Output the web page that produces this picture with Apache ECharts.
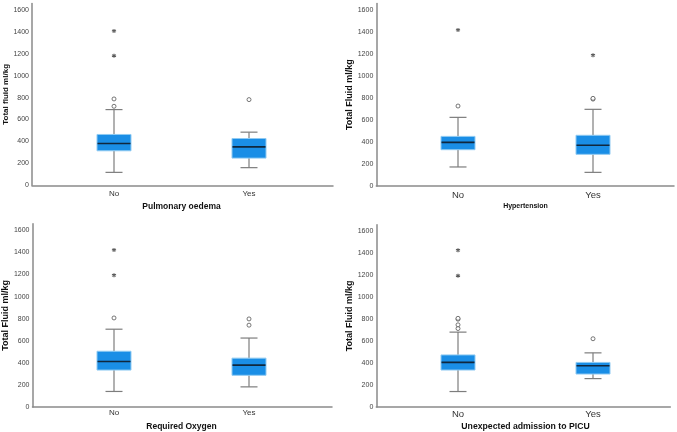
<!DOCTYPE html>
<html>
<head>
<meta charset="utf-8">
<script src="https://cdn.jsdelivr.net/npm/echarts@6/dist/echarts.min.js"></script>
<style>
html,body{margin:0;padding:0;background:#fff;}
#chart{width:677px;height:432px;}
</style>
</head>
<body>
<div id="chart"></div>
<script>
// ---- Data ----
const categories = ['No', 'Yes'];
const groupTitles = ['Pulmonary oedema', 'Hypertension', 'Required Oxygen', 'Unexpected admission to PICU'];
const yTitles = ['Total fluid ml/kg', 'Total Fluid ml/kg', 'Total Fluid ml/kg', 'Total Fluid ml/kg'];
const yTicks = [0, 200, 400, 600, 800, 1000, 1200, 1400, 1600];

// box stats: [low whisker, Q1, median, Q3, high whisker] for No, Yes
const oedemaBox = [[118, 315, 382, 464, 691], [161, 248, 351, 427, 485]];
const oedemaOutliers = [[721, 788], [782]];
const oedemaExtremes = [[1182, 1409], []];

const hypertensionBox = [[173, 330, 397, 451, 624], [124, 288, 370, 461, 697]];
const hypertensionOutliers = [[727], [790, 797]];
const hypertensionExtremes = [[1418], [1188]];

const oxygenBox = [[124, 320, 398, 492, 694], [166, 272, 365, 429, 613]];
const oxygenOutliers = [[797], [731, 788]];
const oxygenExtremes = [[1187, 1419], []];

const picuBox = [[124, 322, 392, 461, 671], [243, 285, 361, 392, 480]];
const picuOutliers = [[704, 738, 790, 798], [610]];
const picuExtremes = [[1190, 1424], []];

const boxes = [oedemaBox, hypertensionBox, oxygenBox, picuBox];
const outliers = [oedemaOutliers, hypertensionOutliers, oxygenOutliers, picuOutliers];
const extremes = [oedemaExtremes, hypertensionExtremes, oxygenExtremes, picuExtremes];

// ---- Layout ----
const layout = [
  {wl: 32, ww: 301, nl: 46.5, nw: 270, top: 3.4, h: 181.9, catFont: 8, xtFont: 8.5, ytFont: 8},
  {wl: 376.3, ww: 297.7, nl: 390.5, nw: 270, top: 3.4, h: 182.6, catFont: 9.5, xtFont: 7, ytFont: 9},
  {wl: 32, ww: 300, nl: 46.5, nw: 270, top: 223.7, h: 183.3, catFont: 8, xtFont: 8.5, ytFont: 9},
  {wl: 376.3, ww: 294, nl: 390.5, nw: 270, top: 224.7, h: 182.3, catFont: 9.5, xtFont: 8.7, ytFont: 9}
];
const YMAX = 1660;
const FONT = 'Liberation Sans, Arial, sans-serif';

function renderBox(params, api) {
  const c = api.value(0);
  const lo = api.coord([c, api.value(1)]);
  const q1 = api.coord([c, api.value(2)]);
  const md = api.coord([c, api.value(3)]);
  const q3 = api.coord([c, api.value(4)]);
  const hi = api.coord([c, api.value(5)]);
  const cx = lo[0], bw = 34, cw = 17;
  const ws = {stroke: '#7d7d7d', lineWidth: 1.2};
  return {
    type: 'group',
    children: [
      {type: 'line', shape: {x1: cx, y1: lo[1], x2: cx, y2: q1[1]}, style: ws},
      {type: 'line', shape: {x1: cx, y1: q3[1], x2: cx, y2: hi[1]}, style: ws},
      {type: 'line', shape: {x1: cx - cw / 2, y1: lo[1], x2: cx + cw / 2, y2: lo[1]}, style: ws},
      {type: 'line', shape: {x1: cx - cw / 2, y1: hi[1], x2: cx + cw / 2, y2: hi[1]}, style: ws},
      {type: 'rect', shape: {x: cx - bw / 2, y: q3[1], width: bw, height: q1[1] - q3[1]},
        style: {fill: '#1a8ee6', stroke: '#8fcaf2', lineWidth: 1}},
      {type: 'line', shape: {x1: cx - bw / 2 + 0.5, y1: md[1], x2: cx + bw / 2 - 0.5, y2: md[1]},
        style: {stroke: '#10273d', lineWidth: 1.6}}
    ]
  };
}

const grid = [], xAxis = [], yAxis = [], series = [];
layout.forEach((L, i) => {
  const gw = 2 * i, gn = 2 * i + 1;
  grid.push({left: L.wl, top: L.top, width: L.ww, height: L.h});
  grid.push({left: L.nl, top: L.top, width: L.nw, height: L.h});
  // wide: axis lines + y labels
  xAxis.push({type: 'value', gridIndex: gw, min: 0, max: 1,
    axisLine: {show: true, lineStyle: {color: '#8a8a8a', width: 1.5}},
    axisTick: {show: false}, axisLabel: {show: false}, splitLine: {show: false}});
  yAxis.push({type: 'value', gridIndex: gw, min: 0, max: YMAX, interval: 200,
    axisLine: {show: true, lineStyle: {color: '#8a8a8a', width: 1.5}},
    axisTick: {show: false}, splitLine: {show: false},
    axisLabel: {fontSize: 7, color: '#444', margin: 3, fontFamily: FONT,
      showMaxLabel: false,
      formatter: v => (yTicks.indexOf(v) >= 0 ? String(v) : '')},
    name: yTitles[i], nameLocation: 'middle', nameGap: 22,
    nameTextStyle: {fontSize: L.ytFont, fontWeight: 'bold', color: '#111', fontFamily: FONT}});
  // narrow: categories + marks
  xAxis.push({type: 'category', gridIndex: gn, data: categories,
    axisLine: {show: false}, axisTick: {show: false}, splitLine: {show: false},
    axisLabel: {fontSize: L.catFont, color: '#333', margin: 4, fontFamily: FONT},
    name: groupTitles[i], nameLocation: 'middle', nameGap: 17,
    nameTextStyle: {fontSize: L.xtFont, fontWeight: 'bold', color: '#111', fontFamily: FONT}});
  yAxis.push({type: 'value', gridIndex: gn, min: 0, max: YMAX, show: false});

  series.push({type: 'custom', xAxisIndex: gn, yAxisIndex: gn,
    renderItem: renderBox, encode: {x: 0, y: [1, 2, 3, 4, 5]},
    data: boxes[i].map((b, k) => [k].concat(b)), silent: true, z: 2});
  const outPts = [], extPts = [];
  outliers[i].forEach((arr, k) => arr.forEach(v => outPts.push([k, v])));
  extremes[i].forEach((arr, k) => arr.forEach(v => extPts.push([k, v])));
  series.push({type: 'scatter', xAxisIndex: gn, yAxisIndex: gn, data: outPts,
    symbol: 'circle', symbolSize: 4,
    itemStyle: {color: '#fff', borderColor: '#555', borderWidth: 0.8, opacity: 1}, z: 3, silent: true});
  series.push({type: 'scatter', xAxisIndex: gn, yAxisIndex: gn, data: extPts,
    symbol: 'path://M5 0 L5 10 M0.7 2.5 L9.3 7.5 M0.7 7.5 L9.3 2.5', symbolSize: 4,
    itemStyle: {color: 'none', borderColor: '#333', borderWidth: 1.1}, z: 3, silent: true});
});

const chart = echarts.init(document.getElementById('chart'), null, {renderer: 'canvas'});
chart.setOption({animation: false, backgroundColor: '#fff', grid, xAxis, yAxis, series});
</script>
</body>
</html>
